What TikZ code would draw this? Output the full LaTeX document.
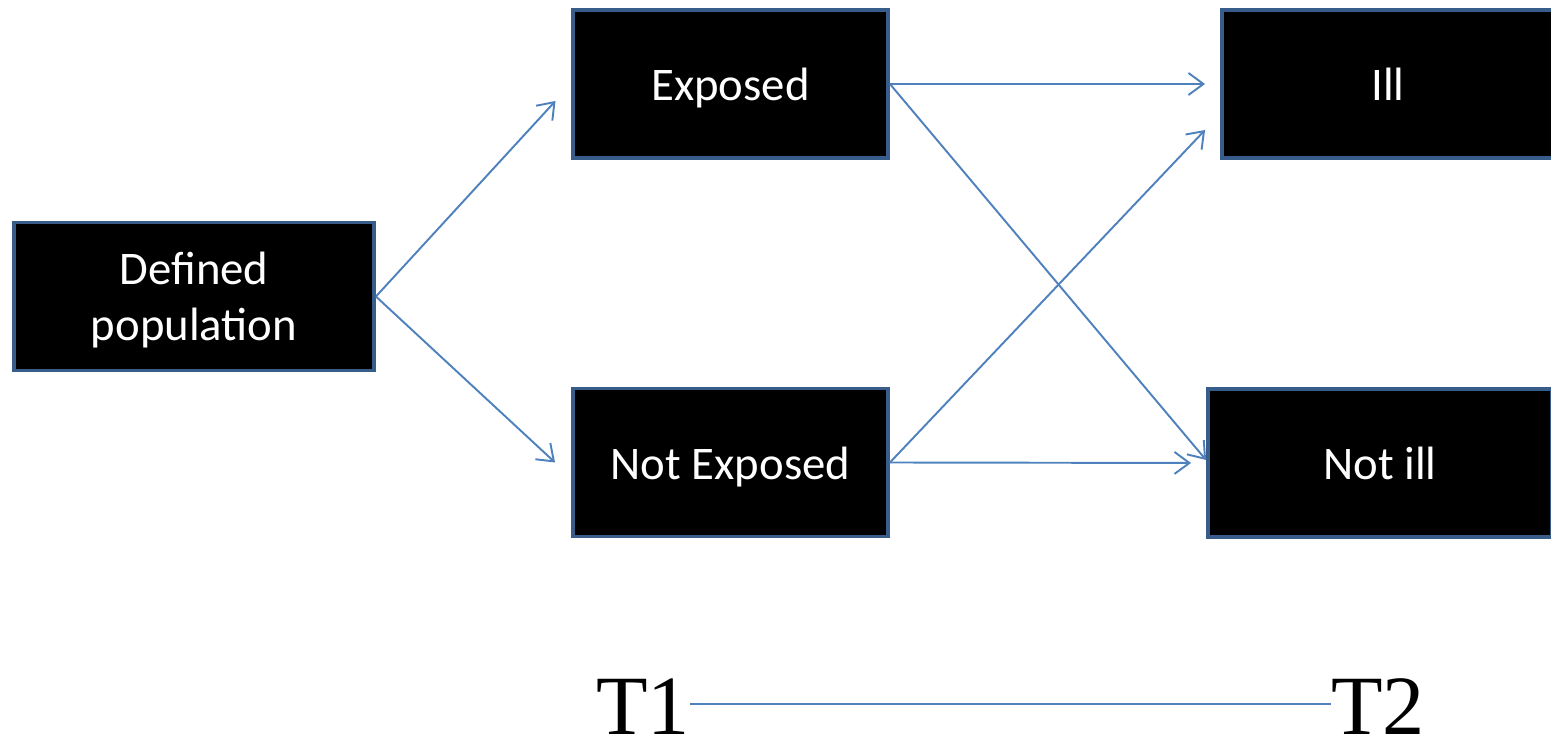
\documentclass[tikz,border=0pt]{standalone}
\usepackage{fontspec}
\setmainfont{Liberation Serif}
\newfontfamily\boxfont{Carlito}
\usetikzlibrary{arrows.meta}
\definecolor{boxedge}{HTML}{385D8A}
\definecolor{flowblue}{HTML}{4F81BD}
\begin{document}
\begin{tikzpicture}[
  stage/.style={draw=boxedge, line width=2.2pt, fill=black, text=white,
    minimum height=2.96cm, align=center, inner sep=0pt,
    text height=0.68cm, text depth=0cm,
    font=\boxfont\fontsize{26.6}{32.3}\selectfont},
  flow/.style={-{Straight Barb[length=0.3cm,width=0.44cm]}, flowblue, line width=1.1pt},
  timetag/.style={font=\fontsize{48}{50}\selectfont, inner sep=0pt}
]
 \useasboundingbox (0,0) rectangle (31.02,14.92);

 \node [stage, minimum width=7.2cm, text height=1.78cm] (pop) at (3.88,8.99) {Defined\\population};
 \node [stage, minimum width=6.3cm] (exp)  at (14.61,13.24) {Exposed};
 \node [stage, minimum width=6.3cm] (nexp) at (14.61,5.67)  {Not Exposed};
 \node [stage, minimum width=6.64cm] (ill)  at (27.76,13.24) {Ill};
 \node [stage, minimum width=6.88cm] (notill) at (27.60,5.66) {Not ill};

 \draw [flow, shorten >=0.46cm] (pop.east) -- (exp.west);
 \draw [flow] (pop.east) -- ([xshift=-0.32cm]nexp.west);

 \draw [flow, shorten >=0.3cm] (exp.east) -- (ill.west);
 \draw [flow] (exp.east) -- ([yshift=0.06cm]notill.west);
 \draw [flow] (nexp.east) -- ([xshift=-0.3cm,yshift=-0.92cm]ill.west);
 \draw [flow, shorten >=0.3cm] (nexp.east) -- (notill.west);

 %% time axis
 \node [timetag] (t1) at (12.86,0.78) {T1};
 \node [timetag] (t2) at (27.56,0.78) {T2};
 \draw [flowblue, line width=1.1pt] ([yshift=0.06cm]t1.east) -- ([yshift=0.06cm]t2.west);
\end{tikzpicture}
\end{document}
